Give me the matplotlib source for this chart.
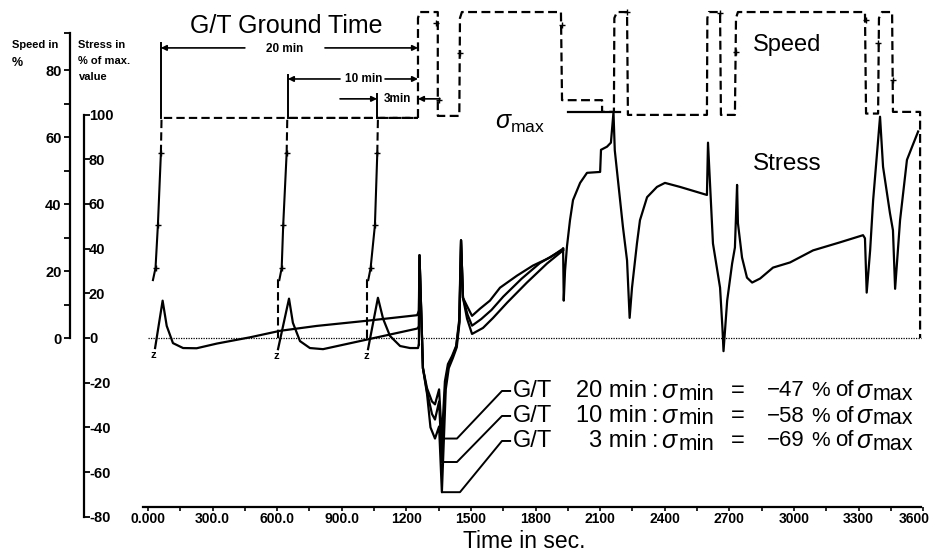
import matplotlib
matplotlib.use("Agg")
import matplotlib.pyplot as plt
from matplotlib.transforms import ScaledTranslation

plt.rcParams['font.family'] = ['Liberation Sans', 'DejaVu Sans']
plt.rcParams['mathtext.fontset'] = 'custom'
plt.rcParams['mathtext.rm'] = 'Liberation Sans'
plt.rcParams['mathtext.it'] = 'Liberation Sans:italic'
plt.rcParams['mathtext.bf'] = 'Liberation Sans:bold'
plt.rcParams['axes.unicode_minus'] = False

# ------------------------------------------------------------------ data
# x axis
x_ticks = [0, 300, 600, 900, 1200, 1500, 1800, 2100, 2400, 2700, 3000, 3300, 3600]
x_tick_labels = ['0.000', '300.0', '600.0', '900.0', '1200', '1500', '1800',
                 '2100', '2400', '2700', '3000', '3300', '3600']
speed_ticks = [0, 20, 40, 60, 80]
stress_ticks = [-80, -60, -40, -20, 0, 20, 40, 60, 80, 100]

# ground-time cases
gt_labels = ['20 min', '10 min', '3 min']
gt_start = [60, 650, 1064]          # end of run-up (s)
gt_end = 1254                        # take-off power (s)
sigma_min = [-47, -58, -69]          # % of sigma_max (stated)
sigma_min_drawn = [-45, -55.5, -69]  # minima as drawn
sigma_max_level = 101

# speed run-up (solid part), %
rise_speed = [17.3, 20.9, 33.7, 55.2]
rise20_t = [23, 35, 46, 60]
rise10_t = [610, 621, 628, 644]
rise3_t = [1023, 1034, 1054, 1065]
idle_speed = 65.7

# speed, common cycle (dashed), %
spd_t = [1254, 1254, 1262, 1346, 1346, 1446, 1449, 1458, 1918, 1923, 2109, 2109,
         2164, 2166, 2178, 2225, 2229, 2596, 2598, 2605, 2657, 2661, 2726, 2731,
         2740, 3330, 3335, 3391, 3395, 3409, 3456, 3460, 3586, 3586]
spd_v = [65.7, 95.5, 97.3, 97.3, 66.3, 66.3, 95.5, 97.3, 97.3, 71, 71, 67.5,
         67.5, 95.5, 97.3, 97.3, 66.6, 66.6, 95.5, 97.3, 97.3, 66.6, 66.6, 95.5,
         97.3, 97.3, 67, 67, 95.5, 97.3, 97.3, 67.5, 67.5, 0]
spd_mark_t = [35, 46, 60, 621, 628, 644, 1034, 1054, 1065, 1340, 1352, 1449, 1923, 2225, 2657, 2731, 3335, 3391, 3460]
spd_mark_v = [20.9, 33.7, 55.2, 20.9, 33.7, 55.2, 20.9, 33.7, 55.2, 94, 71, 85, 93.4, 97.3, 97, 85.4, 95, 88, 77]

# stress (% of max) during ground time
st20_t = [33, 68, 87, 116, 163, 226, 320, 474, 613, 784, 1016, 1250, 1258]
st20_s = [-4.5, 16.7, 5.4, -2.3, -4.5, -4.6, -2.5, 0.3, 3.2, 5.4, 7.7, 10.2, 12]
st10_t = [604, 655, 673, 706, 752, 813, 1250, 1258]
st10_s = [-5, 17.6, 6.8, -1.4, -4.5, -5, 4.2, 5]
st3_t = [1022, 1068, 1092, 1124, 1171, 1217, 1254, 1258]
st3_s = [-5, 18, 8.6, 0.9, -3.6, -4.5, -4.5, -3]

# stress after take-off, separate for each case
post20_t = [1258, 1261, 1277, 1296, 1319, 1333, 1352, 1365, 1379, 1393, 1412, 1431, 1445,
            1454, 1463, 1486, 1505, 1542, 1588, 1635, 1714, 1788, 1867, 1928]
post20_s = [12, 37, -13.5, -22.5, -28.4, -29.7, -23, -45, -19.4, -11.7, -8.1, -3.6, 7.7,
            43.7, 18, 13.5, 9.9, 13.1, 16.7, 22.5, 27.9, 32.4, 36, 40]
post10_t = [1258, 1261, 1277, 1296, 1319, 1333, 1352, 1365, 1381, 1395, 1414, 1432, 1446,
            1454, 1463, 1484, 1505, 1548, 1595, 1650, 1735, 1820, 1928]
post10_s = [5, 37, -13.5, -24, -34, -36.5, -28.4, -55.5, -21, -12.5, -8.5, -3.8, 7.3,
            43.7, 18, 10.5, 5.5, 8.5, 12.5, 18.5, 26.5, 33.5, 39.6]
post3_t = [1258, 1261, 1277, 1296, 1312, 1333, 1352, 1365, 1383, 1397, 1416, 1434, 1447,
           1454, 1463, 1482, 1505, 1556, 1603, 1668, 1760, 1853, 1928]
post3_s = [-3, 37, -13.5, -25, -40, -45, -39.6, -69, -23, -13.5, -9, -4.2, 7,
           43.7, 18, 8.6, 1.8, 4.5, 9, 15.8, 24.8, 33.3, 39.2]

# stress, common part of the cycle
tail_t = [1928, 1931, 1937, 1946, 1960, 1974, 2007, 2039, 2100, 2104, 2132, 2150, 2162,
          2168, 2206, 2225, 2237, 2248, 2271, 2285, 2318, 2364, 2401, 2471, 2596, 2601,
          2624, 2657, 2668, 2673, 2690, 2713, 2726, 2736, 2740, 2759, 2782, 2806, 2843,
          2903, 2982, 3089, 3214, 3321, 3330, 3338, 3354, 3368, 3400, 3414, 3446, 3460,
          3470, 3493, 3525, 3549, 3577]
tail_s = [40, 16.7, 30, 41, 52.7, 61.7, 69.4, 73.9, 74.3, 84.2, 85.6, 87.4, 101,
          84, 49.6, 34.7, 9, 22.5, 42.3, 52.7, 63, 67.6, 69.4, 67.6, 64, 87.4,
          42.3, 22.5, 4.5, -5.9, 16.7, 33.3, 40.5, 68.5, 51.4, 36, 27, 24.8, 26.6,
          31.5, 33.8, 39.2, 42.8, 46, 44.6, 20.3, 39.2, 61.7, 99, 76.6, 55.9, 48.2,
          22, 52.7, 79.7, 85.6, 92.4]

# ------------------------------------------------------------------ figure
W, H = 935, 554
fig = plt.figure(figsize=(W / 100, H / 100), dpi=100)

x_left_px, x_right_px = 142.6, 923.1
bot_px, top_px = 519, 5
pos = [x_left_px / W, 1 - bot_px / H, (x_right_px - x_left_px) / W, (bot_px - top_px) / H]
stress_lim = (-81.0, 149.0)
speed_lim = (-54.0, 99.4)

ax = fig.add_axes(pos)
ax.set_xlim(-25, 3600)
ax.set_ylim(*stress_lim)
for s in ['top', 'right', 'left']:
    ax.spines[s].set_visible(False)
ax.spines['bottom'].set_position(('data', -75.6))
ax.spines['bottom'].set_bounds(-25, 3590)
ax.spines['bottom'].set_linewidth(1.6)
ax.set_yticks([])
ax.set_xticks(x_ticks)
ax.set_xticklabels(x_tick_labels)
ax.set_xticks([150 + 300 * i for i in range(12)], minor=True)
ax.tick_params(axis='x', which='both', direction='out', length=3, width=1.2, pad=1,
               labelsize=10)
xl = ax.get_xticklabels()
for lab in xl:
    lab.set_fontweight('bold')
xl[-1].set_horizontalalignment('right')
xl[-1].set_transform(xl[-1].get_transform() + ScaledTranslation(7 / 100, 0, fig.dpi_scale_trans))

ax2 = ax.twinx()
ax2.set_ylim(*speed_lim)
ax2.set_axis_off()

# speed axis (left)
axS = fig.add_axes([70 / W, pos[1], 1e-4, pos[3]])
axS.set_ylim(*speed_lim)
for s in ['top', 'right', 'bottom']:
    axS.spines[s].set_visible(False)
axS.spines['left'].set_bounds(0, 91)
axS.spines['left'].set_linewidth(1.6)
axS.set_xticks([])
axS.set_yticks(speed_ticks)
axS.set_yticks([10, 30, 50, 70, 91], minor=True)
axS.tick_params(axis='y', which='both', direction='out', length=4, width=1.3, pad=2,
                labelsize=10.5)
for lab in axS.get_yticklabels():
    lab.set_fontweight('bold')

# stress axis (left)
axT = fig.add_axes([84 / W, pos[1], 1e-4, pos[3]])
axT.set_ylim(*stress_lim)
for s in ['top', 'right', 'bottom']:
    axT.spines[s].set_visible(False)
axT.spines['left'].set_bounds(-80, 100)
axT.spines['left'].set_linewidth(1.6)
axT.set_xticks([])
axT.set_yticks(stress_ticks)
axT.set_yticklabels([str(v) for v in stress_ticks])
axT.tick_params(axis='y', which='both', direction='in', left=True, right=False,
                labelleft=False, labelright=True, length=4, width=1.3, pad=3.5,
                labelsize=10.5)
for lab in axT.get_yticklabels():
    lab.set_fontweight('bold')

# zero line
ax.plot([0, 3590], [0, 0], color='k', lw=0.9, ls=(0, (1, 1)))

# speed curves
dash = (0, (4, 2))
for rt in [rise20_t, rise10_t, rise3_t]:
    ax2.plot(rt, rise_speed, color='k', lw=1.5)
for rt in [rise10_t, rise3_t]:
    ax2.plot([rt[0] - 4, rt[0] - 4, rt[0]], [0, rise_speed[0], rise_speed[0]],
             color='k', lw=1.5, ls=dash)
for rt in [rise20_t, rise10_t, rise3_t]:
    ax2.plot([rt[-1], rt[-1] + 3, gt_end], [rise_speed[-1], idle_speed, idle_speed],
             color='k', lw=1.5, ls=dash)
ax2.plot(spd_t, spd_v, color='k', lw=1.6, ls=dash)
ax2.plot(spd_mark_t, spd_mark_v, ls='none', marker='+', ms=5, mew=1, color='k')

# stress curves
kw = dict(color='k', lw=1.6, solid_joinstyle='round')
ax.plot(st20_t, st20_s, **kw)
ax.plot(st10_t, st10_s, **kw)
ax.plot(st3_t, st3_s, **kw)
ax.plot(post20_t, post20_s, **kw)
ax.plot(post10_t, post10_s, **kw)
ax.plot(post3_t, post3_s, **kw)
ax.plot(tail_t, tail_s, **kw)
for t0, s0 in [(st20_t[0], st20_s[0]), (st10_t[0], st10_s[0]), (st3_t[0], st3_s[0])]:
    ax.text(t0 - 8, s0 - 3, 'z', fontsize=8, fontweight='bold', ha='center', va='center')

# sigma_max reference line
ax.plot([1951, 2192], [sigma_max_level, sigma_max_level], color='k', lw=1.6)

# ground-time dimension lines
arrow = dict(arrowstyle='-|>', lw=1.2, color='k', mutation_scale=8, shrinkA=0, shrinkB=0)
dim_y = [129.8, 115.9, 107.0]
for t0, yv in zip(gt_start, dim_y):
    ax.plot([t0, t0], [98.4, yv + 2], color='k', lw=1.4)
# 20 min
ax.annotate('', xy=(gt_start[0], dim_y[0]), xytext=(450, dim_y[0]), arrowprops=arrow)
ax.annotate('', xy=(gt_end, dim_y[0]), xytext=(822, dim_y[0]), arrowprops=arrow)
ax.text(636, dim_y[0] - 0.5, '20 min', fontsize=8.5, fontweight='bold', ha='center', va='center')
# 10 min
ax.annotate('', xy=(gt_start[1], dim_y[1]), xytext=(892, dim_y[1]), arrowprops=arrow)
ax.annotate('', xy=(gt_end, dim_y[1]), xytext=(1101, dim_y[1]), arrowprops=arrow)
ax.text(1000, dim_y[1], '10 min', fontsize=8.5, fontweight='bold', ha='center', va='center')
# 3 min
ax.annotate('', xy=(gt_start[2], dim_y[2]), xytext=(892, dim_y[2]), arrowprops=arrow)
ax.annotate('', xy=(gt_end, dim_y[2]), xytext=(1356, dim_y[2]), arrowprops=arrow)
ax.text(1157, dim_y[2], '3min', fontsize=8.5, fontweight='bold', ha='center', va='center')

# leader lines for sigma_min rows
row_y_px = [391, 416, 441]
row_s = [(338 - y) / 2.235 for y in row_y_px]
diag_t = [1435, 1435, 1449]
for rs, smin, dt in zip(row_s, sigma_min_drawn, diag_t):
    ax.plot([1682, 1644, dt, 1368], [rs, rs, smin, smin], color='k', lw=1.4)


def ftext(x, y, s, **kw):
    fig.text(x / W, 1 - y / H, s, **kw)


# row texts
fs = 17
for yv, lab, sm in zip(row_y_px, gt_labels, sigma_min):
    ftext(513, yv, 'G/T', fontsize=fs, va='center', ha='left')
    ftext(647, yv, lab, fontsize=fs, va='center', ha='right')
    ftext(652, yv, ':', fontsize=fs, va='center', ha='left')
    ftext(661, yv, '\u03c3', fontsize=fs + 1, style='italic', va='center', ha='left')
    ftext(679, yv + 3, 'min', fontsize=fs - 1, va='center', ha='left')
    ftext(738, yv, '=', fontsize=fs, va='center', ha='center')
    ftext(767, yv, '\u2212%d' % abs(sm), fontsize=16, va='center', ha='left')
    ftext(811, yv, '%', fontsize=15, va='center', ha='left')
    ftext(835, yv, 'of', fontsize=16, va='center', ha='left')
    ftext(856, yv, '\u03c3', fontsize=fs + 1, style='italic', va='center', ha='left')
    ftext(873, yv + 3, 'max', fontsize=15.5, va='center', ha='left')

# titles / labels
ftext(190, 26, 'G/T Ground Time', fontsize=18, va='center', ha='left')
ftext(753, 45, 'Speed', fontsize=17, va='center', ha='left')
ftext(753, 164, 'Stress', fontsize=17.5, va='center', ha='left')
ftext(495, 123, r'$\sigma_{\rm max}$', fontsize=18, va='center', ha='left')
ftext(524, 541, 'Time in sec.', fontsize=16.5, va='center', ha='center')

ftext(12, 45, 'Speed in', fontsize=8, fontweight='bold', va='center', ha='left')
ftext(12, 63, '%', fontsize=9, fontweight='bold', va='center', ha='left')
ftext(78, 45, 'Stress in', fontsize=8, fontweight='bold', va='center', ha='left')
ftext(78, 61, '% of max.', fontsize=8, fontweight='bold', va='center', ha='left')
ftext(79, 77, 'value', fontsize=8, fontweight='bold', va='center', ha='left')

fig.savefig('out.png', dpi=100)
